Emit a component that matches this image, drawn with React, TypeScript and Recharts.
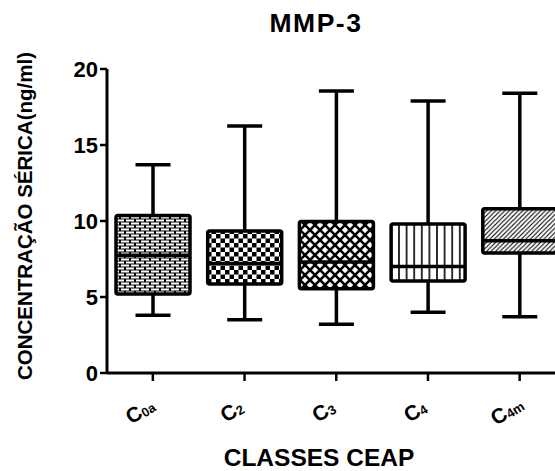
import React from "react";
import { ComposedChart, Bar, XAxis, YAxis, Label } from "recharts";

// valores (ng/ml)
const categories = ["C0a", "C2", "C3", "C4", "C4m"];
const minValues = [3.8, 3.5, 3.2, 4.0, 3.7];
const q1Values = [5.2, 5.85, 5.55, 6.05, 7.9];
const medianValues = [7.75, 7.2, 7.3, 7.0, 8.7];
const q3Values = [10.37, 9.35, 9.97, 9.8, 10.8];
const maxValues = [13.7, 16.25, 18.55, 17.9, 18.4];
const yTicks = [0, 5, 10, 15, 20];

const data = categories.map((c, i) => ({
  name: c,
  min: minValues[i],
  q1: q1Values[i],
  median: medianValues[i],
  q3: q3Values[i],
  max: maxValues[i],
}));

const patternIds = ["brick", "checker", "cross", "vlines", "diag"];
const FONT = "'Liberation Sans', Arial, sans-serif";

function Patterns() {
  return (
    <svg width={0} height={0} style={{ position: "absolute" }}>
      <defs>
        <pattern id="brick" width={10} height={6} patternUnits="userSpaceOnUse">
          <rect width={10} height={6} fill="#000" />
          <rect x={1} y={0.5} width={8} height={2} fill="#fff" />
          <rect x={-4} y={3.5} width={8} height={2} fill="#fff" />
          <rect x={6} y={3.5} width={8} height={2} fill="#fff" />
        </pattern>
        <pattern id="checker" width={9} height={9} patternUnits="userSpaceOnUse">
          <rect width={9} height={9} fill="#fff" />
          <rect width={4.5} height={4.5} fill="#000" />
          <rect x={4.5} y={4.5} width={4.5} height={4.5} fill="#000" />
        </pattern>
        <pattern id="cross" width={10} height={10} patternUnits="userSpaceOnUse">
          <rect width={10} height={10} fill="#fff" />
          <path d="M-1,-1 L11,11 M-1,11 L11,-1 M4,-6 L16,6 M-6,4 L6,16" stroke="#000" strokeWidth={2.6} />
          <path d="M-6,6 L6,-6 M4,16 L16,4" stroke="#000" strokeWidth={2.6} />
        </pattern>
        <pattern id="vlines" width={7.6} height={10} patternUnits="userSpaceOnUse">
          <rect width={7.6} height={10} fill="#fff" />
          <line x1={3.8} y1={0} x2={3.8} y2={10} stroke="#000" strokeWidth={1.6} />
        </pattern>
        <pattern id="diag" width={4.5} height={4.5} patternUnits="userSpaceOnUse">
          <rect width={4.5} height={4.5} fill="#fff" />
          <path d="M-1,5.5 L5.5,-1 M-1,1 L1,-1 M3.5,5.5 L5.5,3.5" stroke="#000" strokeWidth={1.1} />
        </pattern>
      </defs>
    </svg>
  );
}

function BoxShape(props: any) {
  const { x, y, width, height, payload, index } = props;
  const h = Math.abs(height);
  const top = Math.min(y, y + height);
  const ppu = h / (payload.max - payload.min);
  const yOf = (v: number) => top + (payload.max - v) * ppu;
  const cx = x + width / 2;
  const cap = 35;
  return (
    <g>
      <line x1={cx} y1={yOf(payload.max)} x2={cx} y2={yOf(payload.min)} stroke="#000" strokeWidth={3.5} />
      <line x1={cx - cap / 2} y1={yOf(payload.max)} x2={cx + cap / 2} y2={yOf(payload.max)} stroke="#000" strokeWidth={3.5} />
      <line x1={cx - cap / 2} y1={yOf(payload.min)} x2={cx + cap / 2} y2={yOf(payload.min)} stroke="#000" strokeWidth={3.5} />
      <rect
        x={x}
        y={yOf(payload.q3)}
        width={width}
        height={yOf(payload.q1) - yOf(payload.q3)}
        rx={2}
        fill={`url(#${patternIds[index]})`}
        stroke="#000"
        strokeWidth={3.5}
      />
      <line x1={x} y1={yOf(payload.median)} x2={x + width} y2={yOf(payload.median)} stroke="#000" strokeWidth={3.5} />
    </g>
  );
}

function CategoryTick(props: any) {
  const { x, y, payload } = props;
  const label: string = payload.value;
  const cx = x - 9;
  const cy = y + 34;
  return (
    <text
      x={cx}
      y={cy}
      transform={`rotate(-32, ${cx}, ${cy})`}
      textAnchor="middle"
      fontFamily={FONT}
      fontWeight="bold"
      fill="#000"
    >
      <tspan fontSize={21}>{label[0]}</tspan>
      <tspan fontSize={13} dy={1}>{label.slice(1)}</tspan>
    </text>
  );
}

export default function App() {
  return (
    <div style={{ position: "absolute", left: 0, top: 0, width: 555, height: 471, overflow: "hidden", background: "#fff" }}>
      <Patterns />
      <svg width={555} height={50} style={{ position: "absolute", left: 0, top: 0 }}>
        <text x={316} y={32} textAnchor="middle" fontFamily={FONT} fontWeight="bold" fontSize={26.5} letterSpacing={1.5} fill="#000">
          MMP-3
        </text>
      </svg>
      <ComposedChart
        width={570}
        height={471}
        data={data}
        margin={{ top: 69, right: 4.5, bottom: 38, left: 60 }}
        barCategoryGap={0}
      >
        <XAxis
          dataKey="name"
          height={60}
          axisLine={{ stroke: "#000", strokeWidth: 3 }}
          tickLine={{ stroke: "#000", strokeWidth: 2.5 }}
          tickSize={8}
          tick={<CategoryTick />}
          interval={0}
        >
          <Label
            content={() => (
              <text x={319} y={466} textAnchor="middle" fontFamily={FONT} fontWeight="bold" fontSize={24.5} fill="#000">
                CLASSES CEAP
              </text>
            )}
          />
        </XAxis>
        <YAxis
          width={47}
          domain={[0, 20]}
          ticks={yTicks}
          interval={0}
          axisLine={{ stroke: "#000", strokeWidth: 3 }}
          tickLine={{ stroke: "#000", strokeWidth: 2.5 }}
          tickSize={7}
          tickMargin={2}
          tick={{ fill: "#000", fontSize: 22, fontWeight: "bold", fontFamily: FONT }}
        >
          <Label
            content={() => (
              <text
                x={32}
                y={216}
                transform="rotate(-90, 32, 216)"
                textAnchor="middle"
                fontFamily={FONT}
                fontWeight="bold"
                fontSize={20.5}
                fill="#000"
              >
                CONCENTRAÇÃO SÉRICA(ng/ml)
              </text>
            )}
          />
        </YAxis>
        <Bar
          dataKey={(d: any) => [d.min, d.max]}
          barSize={74}
          shape={<BoxShape />}
          isAnimationActive={false}
        />
      </ComposedChart>
    </div>
  );
}
